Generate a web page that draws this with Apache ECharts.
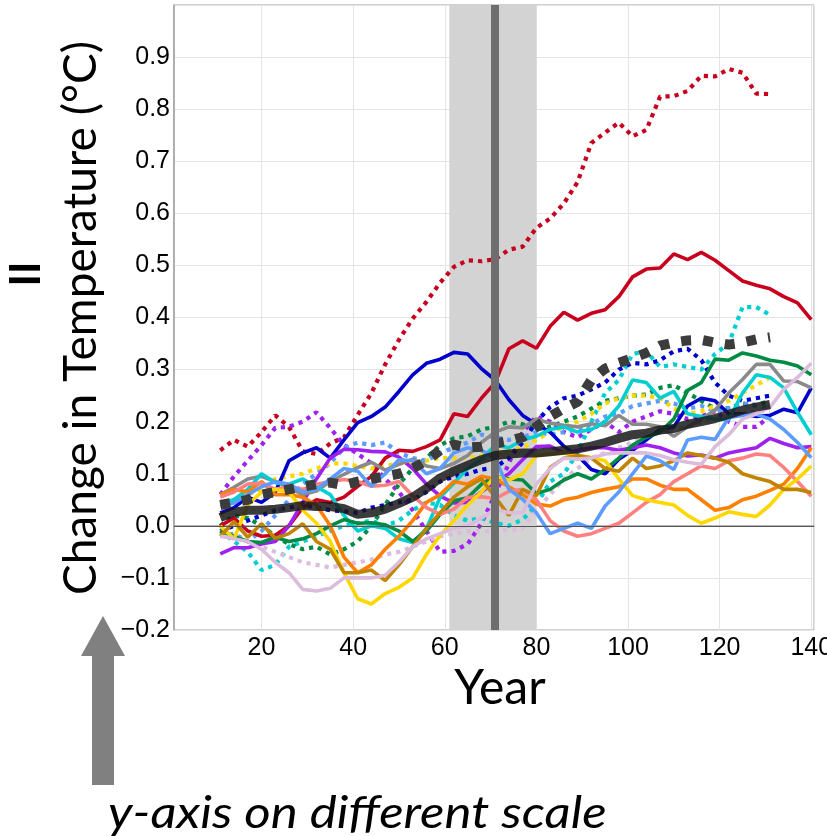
<!DOCTYPE html>
<html>
<head>
<meta charset="utf-8">
<script src="https://cdn.jsdelivr.net/npm/echarts@6/dist/echarts.min.js"></script>
<style>html,body{margin:0;padding:0;background:#fff;}#c{width:827px;height:836px;}</style>
</head>
<body>
<div id="c"></div>
<script>
const years = [11,14,17,20,23,26,29,32,35,38,41,44,47,50,53,56,59,62,65,68,71,74,77,80,83,86,89,92,95,98,101,104,107,110,113,116,119,122,125,128,131,134,137,140];
const xTicks = [20,40,60,80,100,120,140];
const yTicks = [-0.2,-0.1,0.0,0.1,0.2,0.3,0.4,0.5,0.6,0.7,0.8,0.9];
const bandStart = 61, bandEnd = 80, markYear = 71;

const redSolid = [0.0,0.015,-0.01,-0.02,-0.018,0.0,0.035,0.05,0.045,0.055,
 0.076,0.095,0.13,0.145,0.143,0.152,0.165,0.215,0.21,0.245,
 0.275,0.34,0.355,0.341,0.383,0.41,0.395,0.408,0.415,0.44,
 0.478,0.493,0.495,0.522,0.511,0.525,0.51,0.49,0.47,0.462,
 0.455,0.44,0.428,0.396];
const blueSolid = [0.025,0.035,0.055,0.045,0.064,0.125,0.14,0.15,0.13,0.165,
 0.198,0.21,0.228,0.258,0.29,0.312,0.32,0.333,0.33,0.302,
 0.28,0.242,0.212,0.195,0.18,0.153,0.135,0.108,0.1,0.128,
 0.145,0.165,0.185,0.19,0.23,0.245,0.24,0.215,0.215,0.21,
 0.212,0.224,0.217,0.265];
const purpleSolid = [-0.054,-0.042,-0.042,-0.035,-0.03,0.0,0.045,0.09,0.13,0.147,
 0.146,0.143,0.142,0.132,0.11,0.08,0.057,0.044,0.045,0.065,
 0.085,0.1,0.127,0.152,0.153,0.14,0.145,0.15,0.15,0.145,
 0.15,0.155,0.15,0.14,0.134,0.136,0.13,0.14,0.145,0.15,
 0.168,0.158,0.15,0.152];
const graySolid = [0.06,0.074,0.09,0.095,0.085,0.074,0.06,0.067,0.085,0.099,
 0.112,0.122,0.107,0.118,0.128,0.115,0.11,0.12,0.135,0.16,
 0.18,0.19,0.188,0.205,0.197,0.193,0.19,0.196,0.192,0.212,
 0.195,0.195,0.19,0.172,0.19,0.205,0.222,0.255,0.281,0.31,
 0.31,0.278,0.277,0.265];
const cyanSolid = [0.045,0.05,0.07,0.1,0.083,0.08,0.09,0.075,0.06,0.02,
 -0.01,0.0,-0.005,-0.025,-0.032,-0.005,0.055,0.082,0.11,0.128,
 0.155,0.15,0.165,0.172,0.185,0.19,0.18,0.185,0.2,0.23,
 0.28,0.275,0.245,0.258,0.215,0.21,0.205,0.204,0.255,0.29,
 0.285,0.265,0.218,0.175];
const greenSolid = [-0.01,-0.02,-0.03,-0.032,-0.022,-0.03,-0.025,-0.015,0.0,0.012,
 0.005,0.006,0.002,-0.01,-0.03,-0.01,0.022,0.048,0.054,0.08,
 0.095,0.09,0.088,0.062,0.07,0.088,0.1,0.09,0.108,0.13,
 0.155,0.17,0.18,0.205,0.26,0.275,0.32,0.318,0.332,0.326,
 0.318,0.314,0.307,0.29];
const orangeSolid = [0.06,0.07,0.065,0.085,0.06,0.06,0.055,0.04,0.0,-0.06,
 -0.09,-0.075,-0.045,-0.02,0.01,0.045,0.06,0.085,0.08,0.095,
 0.09,0.075,0.06,0.042,0.038,0.05,0.055,0.064,0.07,0.075,
 0.09,0.09,0.078,0.07,0.07,0.05,0.03,0.035,0.05,0.057,
 0.068,0.08,0.11,0.15];
const salmonSolid = [0.055,0.065,0.08,0.082,0.07,0.075,0.07,0.08,0.085,0.089,
 0.085,0.076,0.078,0.085,0.058,0.035,0.022,0.032,0.055,0.056,
 0.052,0.066,0.07,0.05,0.01,-0.01,-0.02,-0.015,-0.005,0.005,
 0.025,0.045,0.06,0.085,0.1,0.115,0.11,0.125,0.13,0.138,
 0.135,0.112,0.085,0.057];
const goldSolid = [0.0,-0.025,0.04,0.065,0.07,0.065,0.03,0.005,-0.03,-0.09,
 -0.14,-0.15,-0.13,-0.118,-0.1,-0.055,-0.018,0.01,0.04,0.065,
 0.095,0.088,0.1,0.135,0.138,0.14,0.135,0.131,0.125,0.09,
 0.058,0.05,0.045,0.04,0.02,0.005,0.015,0.027,0.022,0.018,
 0.04,0.07,0.09,0.115];
const goldenrodSolid = [-0.02,0.008,-0.022,0.004,-0.024,-0.015,0.004,-0.03,-0.045,-0.09,
 -0.09,-0.085,-0.105,-0.075,-0.04,-0.005,0.025,0.055,0.075,0.09,
 0.055,0.02,0.07,0.058,0.112,0.13,0.135,0.13,0.11,0.105,
 0.13,0.11,0.115,0.125,0.14,0.135,0.13,0.122,0.1,0.092,
 0.085,0.07,0.07,0.064];
const cornflowerSolid = [0.038,0.044,0.06,0.075,0.085,0.08,0.065,0.07,0.09,0.11,
 0.105,0.076,0.1,0.127,0.125,0.1,0.11,0.14,0.15,0.145,
 0.13,0.07,0.051,0.025,-0.015,-0.005,0.005,-0.005,0.038,0.065,
 0.1,0.134,0.125,0.108,0.165,0.17,0.166,0.208,0.212,0.214,
 0.205,0.185,0.16,0.131];
const thistleSolid = [-0.02,-0.025,-0.03,-0.045,-0.07,-0.09,-0.122,-0.125,-0.12,-0.1,
 -0.1,-0.1,-0.095,-0.07,-0.04,-0.025,-0.015,-0.005,0.0,0.015,
 0.032,0.025,0.025,0.08,0.11,0.13,0.128,0.13,0.138,0.14,
 0.14,0.14,0.135,0.127,0.122,0.118,0.152,0.175,0.205,0.215,
 0.228,0.262,0.285,0.312];

const redDotted = [0.145,0.165,0.152,0.18,0.212,0.19,0.143,0.138,0.158,0.17,
 0.213,0.255,0.31,0.357,0.398,0.43,0.467,0.497,0.51,0.508,
 0.512,0.53,0.536,0.572,0.59,0.619,0.66,0.735,0.755,0.774,
 0.748,0.76,0.824,0.825,0.835,0.864,0.863,0.877,0.87,0.83,
 0.829];
const purpleDotted = [0.06,0.095,0.125,0.155,0.188,0.19,0.2,0.218,0.188,0.155,
 0.138,0.12,0.09,0.065,0.03,-0.01,-0.05,-0.048,-0.035,0.005,
 0.06,0.12,0.18,0.21,0.2,0.18,0.17,0.185,0.2,0.18,
 0.2,0.21,0.22,0.215,0.205,0.21,0.22,0.2,0.19,0.19,
 0.21];
const cyanDotted = [-0.01,-0.03,-0.05,-0.085,-0.075,-0.04,-0.03,-0.02,-0.01,0.0,
 0.005,0.01,0.0,0.01,0.03,0.045,0.04,0.02,0.01,0.015,
 0.005,0.0,0.012,0.04,0.085,0.1,0.14,0.2,0.255,0.28,
 0.33,0.335,0.305,0.31,0.305,0.3,0.33,0.35,0.42,0.42,
 0.405];
const greenDotted = [0.0,0.02,0.015,0.0,-0.02,-0.035,-0.045,-0.04,-0.055,-0.045,
 -0.03,0.0,0.04,0.08,0.11,0.13,0.155,0.168,0.172,0.185,
 0.19,0.2,0.195,0.185,0.19,0.2,0.21,0.225,0.24,0.245,
 0.25,0.252,0.265,0.27,0.255,0.24,0.225,0.226,0.235,0.232,
 0.24];
const blueDotted = [-0.01,0.0,0.01,0.02,0.03,0.035,0.04,0.035,0.03,0.028,
 0.025,0.035,0.04,0.045,0.05,0.065,0.085,0.095,0.1,0.108,
 0.112,0.13,0.16,0.2,0.228,0.245,0.25,0.262,0.275,0.3,
 0.313,0.31,0.318,0.335,0.34,0.318,0.275,0.25,0.24,0.245,
 0.25];
const cornflowerDotted = [-0.02,-0.015,-0.03,-0.01,0.02,0.05,0.08,0.1,0.12,0.15,
 0.16,0.155,0.16,0.14,0.13,0.125,0.14,0.15,0.16,0.175,
 0.17,0.165,0.17,0.18,0.175,0.18,0.185,0.195,0.21,0.215,
 0.23,0.235,0.24,0.235,0.225,0.23,0.22,0.225,0.235,0.23,
 0.225];
const goldDotted = [0.02,0.05,0.06,0.07,0.09,0.095,0.1,0.11,0.12,0.12,
 0.115,0.11,0.115,0.12,0.12,0.125,0.13,0.13,0.13,0.135,
 0.14,0.145,0.15,0.165,0.18,0.19,0.2,0.215,0.235,0.245,
 0.25,0.25,0.245,0.225,0.215,0.22,0.23,0.24,0.255,0.27,
 0.285];
const thistleDotted = [-0.01,-0.02,-0.03,-0.04,-0.05,-0.06,-0.07,-0.075,-0.08,-0.075,
 -0.07,-0.065,-0.055,-0.05,-0.04,-0.03,-0.02,-0.015,-0.01,-0.01,
 -0.01,-0.008,-0.005,0.03,0.06,0.09,0.11,0.13,0.14,0.15,
 0.16,0.17,0.18,0.185,0.19,0.2,0.205,0.21,0.215,0.22,
 0.22];

const solidMean = [0.016,0.026,0.03,0.03,0.032,0.035,0.039,0.037,0.037,0.033,
 0.022,0.025,0.032,0.043,0.055,0.072,0.092,0.105,0.116,0.127,
 0.135,0.138,0.14,0.14,0.142,0.145,0.148,0.153,0.16,0.168,
 0.175,0.178,0.184,0.187,0.195,0.2,0.206,0.214,0.222,0.228,
 0.233];
const dottedMean = [0.04,0.045,0.05,0.06,0.065,0.07,0.075,0.08,0.083,0.078,
 0.085,0.09,0.095,0.1,0.11,0.125,0.145,0.156,0.15,0.152,
 0.158,0.163,0.17,0.19,0.21,0.225,0.238,0.28,0.302,0.313,
 0.322,0.332,0.346,0.352,0.356,0.357,0.352,0.348,0.352,0.358,
 0.362];

const pairs = vals => vals.map((v, i) => [years[i], v]);

const solidSpecs = [
  [redSolid, '#c8001e'], [blueSolid, '#0000cd'], [purpleSolid, '#a020f0'],
  [graySolid, '#8a8a8a'], [cyanSolid, '#00ced1'], [greenSolid, '#008b45'],
  [orangeSolid, '#ff8000'], [salmonSolid, '#ff8080'], [goldSolid, '#ffd700'],
  [goldenrodSolid, '#c08400'], [cornflowerSolid, '#5c9cff'], [thistleSolid, '#dcbcdc']
];
const dottedSpecs = [
  [redDotted, '#c8001e'], [purpleDotted, '#a020f0'], [cyanDotted, '#00ced1'],
  [greenDotted, '#008b45'], [blueDotted, '#0000cd'], [cornflowerDotted, '#5c9cff'],
  [goldDotted, '#ffd700'], [thistleDotted, '#dcbcdc']
];

const series = [];
series.push({
  type: 'line', data: [], z: 1, silent: true,
  markArea: { silent: true, itemStyle: { color: '#d3d3d3' }, data: [[{ xAxis: bandStart }, { xAxis: bandEnd }]] },
  markLine: { silent: true, symbol: 'none', label: { show: false },
    lineStyle: { color: '#555', width: 1.2, type: 'solid' }, data: [{ yAxis: 0 }] }
});
dottedSpecs.forEach(([v, c]) => series.push({
  type: 'line', data: pairs(v), showSymbol: false, z: 2, silent: true,
  lineStyle: { color: c, width: 4.2, type: [4.2, 5], cap: 'butt' }
}));
solidSpecs.forEach(([v, c]) => series.push({
  type: 'line', data: pairs(v), showSymbol: false, z: 3, silent: true,
  lineStyle: { color: c, width: 3.6 }
}));
series.push({
  type: 'line', data: pairs(dottedMean), showSymbol: false, z: 4, silent: true,
  lineStyle: { color: '#3c3c3c', width: 10, type: [10, 12], cap: 'butt' }
});
series.push({
  type: 'line', data: pairs(solidMean), showSymbol: false, z: 5, silent: true,
  lineStyle: { color: 'rgba(25,25,25,0.85)', width: 9 }
});
series.push({
  type: 'line', data: [], z: 6, silent: true,
  markLine: { silent: true, symbol: 'none', label: { show: false },
    lineStyle: { color: '#6e6e6e', width: 8, type: 'solid' }, data: [{ xAxis: markYear }] }
});

const labelFont = { color: '#000', fontFamily: 'Liberation Sans', fontSize: 25 };
const fmtY = v => {
  const r = Math.round(v * 10) / 10;
  if (!yTicks.some(t => Math.abs(t - r) < 1e-6)) return '';
  return (r < 0 ? '\u2212' : '') + Math.abs(r).toFixed(1);
};

const chart = echarts.init(document.getElementById('c'), null, { renderer: 'canvas' });
chart.setOption({
  animation: false,
  backgroundColor: '#fff',
  grid: { left: 174, top: 5, width: 640, height: 625, outerBoundsMode: 'none', containLabel: false,
    show: true, borderColor: '#a0a0a0', borderWidth: 1, backgroundColor: 'transparent' },
  xAxis: {
    type: 'value', min: 0.9, max: 140.6, minInterval: 20, maxInterval: 20,
    axisLine: { show: true, lineStyle: { color: '#a0a0a0', width: 1.5 } },
    axisTick: { show: false },
    splitLine: { show: true, lineStyle: { color: '#e4e4e4', width: 1 } },
    axisLabel: Object.assign({ margin: 6, showMinLabel: false, showMaxLabel: false, hideOverlap: false,
      formatter: v => xTicks.includes(Math.round(v)) && Math.abs(v - Math.round(v)) < 1e-6 ? String(Math.round(v)) : '' }, labelFont)
  },
  yAxis: {
    type: 'value', min: -0.2, max: 1.0, interval: 0.1,
    axisLine: { show: true, lineStyle: { color: '#a0a0a0', width: 1.5 } },
    axisTick: { show: false },
    splitLine: { show: true, lineStyle: { color: '#e4e4e4', width: 1 } },
    axisLabel: Object.assign({ margin: 4, formatter: fmtY }, labelFont)
  },
  graphic: [
    { type: 'text', x: 81, y: 318, rotation: Math.PI / 2,
      style: { text: 'Change in Temperature (\u00b0C)', font: '46px Lato', fill: '#000', textAlign: 'center', textVerticalAlign: 'middle' } },
    { type: 'text', x: 500, y: 689,
      style: { text: 'Year', font: '48px Lato', fill: '#000', textAlign: 'center', textVerticalAlign: 'middle' } },
    { type: 'text', x: 26, y: 274, rotation: Math.PI / 2,
      style: { text: 'II', font: 'bold 42px Lato', fill: '#000', textAlign: 'center', textVerticalAlign: 'middle' } },
    { type: 'polygon', shape: { points: [[103, 616], [81, 656], [125, 656]] }, style: { fill: '#808080' } },
    { type: 'rect', shape: { x: 92, y: 655, width: 22, height: 130 }, style: { fill: '#808080' } },
    { type: 'text', x: 108, y: 814, scaleX: 1.16,
      style: { text: 'y-axis on different scale', font: 'italic 44px Lato', fill: '#000', textAlign: 'left', textVerticalAlign: 'middle' } }
  ],
  series: series
});
</script>
</body>
</html>
